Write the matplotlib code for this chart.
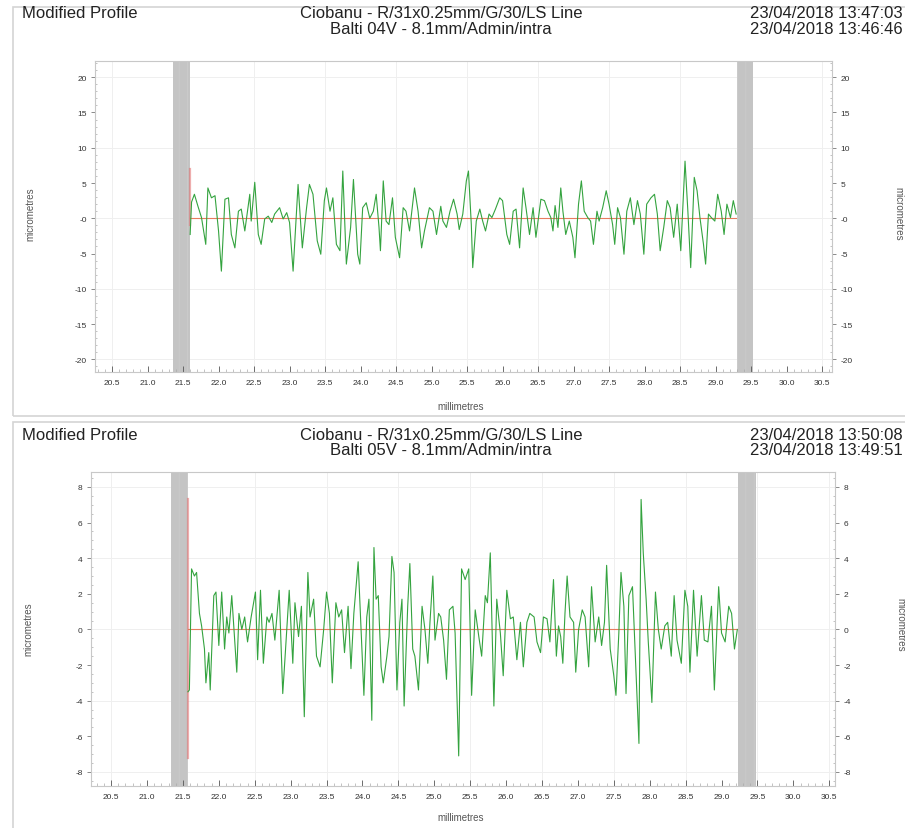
import matplotlib
matplotlib.use("Agg")
import matplotlib.pyplot as plt
from matplotlib.patches import Rectangle
from matplotlib.ticker import MultipleLocator

plt.rcParams['font.family'] = ['Liberation Sans', 'DejaVu Sans']
plt.rcParams['hatch.linewidth'] = 0.5

# ---------------- data ----------------
x_ticks = [20.5, 21.0, 21.5, 22.0, 22.5, 23.0, 23.5, 24.0, 24.5, 25.0, 25.5,
           26.0, 26.5, 27.0, 27.5, 28.0, 28.5, 29.0, 29.5, 30.0, 30.5]

top_header = ["Modified Profile", "Ciobanu - R/31x0.25mm/G/30/LS Line",
              "Balti 04V - 8.1mm/Admin/intra", "23/04/2018 13:47:03", "23/04/2018 13:46:46"]
bot_header = ["Modified Profile", "Ciobanu - R/31x0.25mm/G/30/LS Line",
              "Balti 05V - 8.1mm/Admin/intra", "23/04/2018 13:50:08", "23/04/2018 13:49:51"]

top_yticks = [-20, -15, -10, -5, 0, 5, 10, 15, 20]
top_ylabels = ["-20", "-15", "-10", "-5", "-0", "5", "10", "15", "20"]
bot_yticks = [-8, -6, -4, -2, 0, 2, 4, 6, 8]
bot_ylabels = ["-8", "-6", "-4", "-2", "0", "2", "4", "6", "8"]

top_bands = [(21.36, 21.60), (29.30, 29.53)]
bot_bands = [(21.34, 21.57), (29.23, 29.48)]

top_x = [21.60, 21.62, 21.66, 21.71, 21.76, 21.82, 21.85, 21.90, 21.95, 22.00,
         22.04, 22.09, 22.14, 22.18, 22.23, 22.28, 22.32, 22.37, 22.44, 22.46,
         22.51, 22.56, 22.60, 22.65, 22.70, 22.75, 22.79, 22.86, 22.91, 22.96,
         23.00, 23.05, 23.12, 23.18, 23.24, 23.28, 23.33, 23.39, 23.44, 23.49,
         23.52, 23.57, 23.61, 23.66, 23.71, 23.75, 23.80, 23.86, 23.90, 23.96,
         23.99, 24.03, 24.08, 24.13, 24.18, 24.22, 24.26, 24.28, 24.32, 24.36,
         24.40, 24.45, 24.49, 24.55, 24.60, 24.64, 24.69, 24.76, 24.81, 24.86,
         24.90, 24.97, 25.02, 25.07, 25.13, 25.16, 25.21, 25.26, 25.31, 25.36,
         25.39, 25.44, 25.49, 25.52, 25.56, 25.58, 25.63, 25.68, 25.72, 25.76,
         25.81, 25.85, 25.90, 25.96, 26.00, 26.06, 26.10, 26.15, 26.19, 26.24,
         26.29, 26.33, 26.38, 26.43, 26.47, 26.54, 26.59, 26.64, 26.68, 26.71,
         26.74, 26.78, 26.82, 26.85, 26.89, 26.94, 26.99, 27.02, 27.07, 27.11,
         27.15, 27.20, 27.24, 27.28, 27.33, 27.36, 27.41, 27.46, 27.50, 27.55,
         27.58, 27.62, 27.66, 27.71, 27.75, 27.80, 27.85, 27.90, 27.94, 27.99,
         28.03, 28.09, 28.14, 28.18, 28.22, 28.27, 28.32, 28.36, 28.41, 28.46,
         28.51, 28.57, 28.61, 28.65, 28.70, 28.74, 28.78, 28.83, 28.86, 28.90,
         28.94, 28.99, 29.03, 29.08, 29.12, 29.16, 29.21, 29.25, 29.29]
top_y = [-2.3, 2.3, 3.4, 1.7, 0.1, -3.7, 4.3, 2.9, 3.2, -1.8,
         -7.5, 2.7, 2.9, -2.3, -4.2, 1.0, 1.3, -1.8, 3.4, -0.4,
         5.1, -2.3, -3.7, -0.1, 0.3, -0.6, 0.6, 1.5, -0.1, 0.8,
         -0.6, -7.5, 4.8, -4.2, 1.5, 4.8, 3.4, -3.2, -5.1, 2.5,
         4.3, 1.0, 2.9, -3.7, -4.6, 6.7, -6.5, -1.3, 5.5, -5.1,
         -6.5, 1.5, 2.2, 0.0, 1.0, 3.4, -1.3, -4.6, 5.3, -0.4,
         -0.9, 2.9, -2.7, -5.6, 1.5, 1.0, -1.8, 4.3, 1.0, -4.2,
         -1.8, 1.5, 1.0, -2.3, 1.7, -0.4, -1.3, 1.0, 2.7, 0.6,
         -1.6, 0.6, 5.3, 6.7, -0.9, -7.0, -0.4, 1.3, -0.4, -1.8,
         0.6, 0.1, 1.3, 2.9, 2.5, -2.3, -3.7, 1.0, 1.3, -4.2,
         4.3, 1.5, -2.3, 1.5, -2.7, 2.7, 2.5, 1.0, 0.1, -1.8,
         1.8, -1.3, 4.3, 1.0, -2.3, -0.4, -2.7, -5.6, 2.0, 5.3,
         1.0, 0.1, -0.4, -3.7, 1.0, -0.4, 1.5, 3.9, 2.0, -0.9,
         -3.7, 1.5, 0.1, -5.1, 1.0, 2.9, -0.9, 2.5, 0.6, -5.1,
         2.0, 2.9, 3.4, 0.6, -4.6, -1.3, 2.5, 1.5, -2.7, 2.0,
         -4.6, 8.1, 1.0, -7.0, 5.8, 3.9, 0.1, -3.7, -6.5, 0.6,
         0.1, -0.4, 3.4, 1.0, -2.3, 2.0, 0.1, 2.5, 0.6]

bot_x = [21.57, 21.59, 21.62, 21.66, 21.69, 21.73, 21.76, 21.80, 21.82, 21.86,
         21.88, 21.93, 21.96, 22.00, 22.04, 22.08, 22.11, 22.14, 22.18, 22.22,
         22.25, 22.28, 22.32, 22.36, 22.40, 22.45, 22.51, 22.54, 22.58, 22.62,
         22.67, 22.70, 22.74, 22.78, 22.84, 22.89, 22.92, 22.98, 23.03, 23.06,
         23.11, 23.15, 23.19, 23.24, 23.27, 23.32, 23.36, 23.41, 23.46, 23.50,
         23.54, 23.58, 23.63, 23.67, 23.71, 23.75, 23.80, 23.84, 23.88, 23.94,
         23.98, 24.02, 24.06, 24.09, 24.13, 24.16, 24.19, 24.22, 24.26, 24.29,
         24.34, 24.37, 24.41, 24.44, 24.48, 24.52, 24.55, 24.58, 24.63, 24.66,
         24.70, 24.73, 24.78, 24.83, 24.87, 24.91, 24.94, 24.98, 25.01, 25.06,
         25.09, 25.13, 25.17, 25.21, 25.26, 25.29, 25.34, 25.38, 25.43, 25.48,
         25.52, 25.57, 25.62, 25.66, 25.71, 25.74, 25.78, 25.83, 25.87, 25.92,
         25.96, 26.01, 26.06, 26.10, 26.15, 26.20, 26.24, 26.29, 26.33, 26.39,
         26.43, 26.48, 26.52, 26.57, 26.61, 26.66, 26.70, 26.73, 26.76, 26.79,
         26.82, 26.85, 26.89, 26.94, 26.97, 27.01, 27.06, 27.10, 27.15, 27.19,
         27.24, 27.29, 27.33, 27.37, 27.40, 27.45, 27.50, 27.53, 27.57, 27.60,
         27.64, 27.67, 27.71, 27.76, 27.80, 27.85, 27.88, 27.91, 27.95, 27.98,
         28.03, 28.08, 28.12, 28.16, 28.21, 28.25, 28.30, 28.34, 28.38, 28.44,
         28.49, 28.53, 28.56, 28.61, 28.66, 28.72, 28.76, 28.81, 28.86, 28.90,
         28.96, 29.00, 29.05, 29.10, 29.14, 29.18, 29.22]
bot_y = [-3.5, -3.4, 3.4, 3.0, 3.2, 0.9, 0.2, -1.1, -3.0, -1.3,
         -3.4, 1.9, 2.1, -0.9, 2.1, -1.1, 0.7, -0.2, 1.9, -0.6,
         -2.4, 0.9, 0.0, 0.7, -0.7, 0.7, 2.1, -1.7, 2.2, -1.9,
         0.7, 0.4, 0.9, -0.6, 2.2, -3.6, -1.7, 2.2, -1.9, 1.5,
         -0.4, 1.3, -4.9, 3.2, 0.7, 1.7, -1.5, -2.1, 0.0, 2.1,
         0.9, -3.0, 1.5, 0.7, 1.1, -1.3, 1.3, -2.2, 0.9, 3.8,
         0.0, -3.7, 0.7, 1.7, -5.1, 4.6, 1.7, 1.9, -2.1, -3.0,
         -1.5, -0.4, 4.1, 3.2, -3.4, 0.4, 1.7, -4.3, 1.3, 3.7,
         -1.1, -1.5, -3.4, 1.3, 0.0, -1.9, 0.4, 3.0, -0.6, 0.9,
         0.7, -0.6, -2.8, 1.1, 1.3, -0.2, -7.1, 3.4, 2.8, 3.4,
         -3.7, 1.1, -0.4, -1.5, 1.9, 1.5, 4.3, -4.3, 1.7, -0.2,
         -2.6, 2.2, 0.6, 0.7, -1.7, 0.4, -2.1, 0.4, 0.9, 0.7,
         -0.7, -1.3, 0.7, 0.6, -0.7, 2.8, -1.5, 0.2, -0.4, -1.9,
         0.9, 3.0, 0.7, 0.4, -2.4, 0.0, 1.1, 0.7, -2.1, 2.4,
         -0.7, 0.7, -0.9, 0.4, 3.6, -1.1, -2.6, -3.7, -0.2, 3.2,
         1.3, -3.6, 1.9, 2.4, -1.5, -6.4, 7.3, 4.3, 1.7, -0.7,
         -4.1, 2.1, 0.0, -1.1, 0.2, 0.4, -1.5, 1.9, -0.6, -1.9,
         2.2, 1.3, -2.4, 2.2, -1.5, 1.9, -0.6, -0.7, 1.3, -3.4,
         2.4, -0.2, -0.7, 1.3, 0.9, -1.1, 0.0]

# ---------------- figure ----------------
W, H = 905, 829
fig = plt.figure(figsize=(W / 100, H / 100), dpi=100)


def fx(px):
    return px / W


def fy(py):
    return 1 - py / H


def header_block(rect_px, header, head_y):
    x0, y0, x1, y1 = rect_px
    fig.add_artist(Rectangle((fx(x0), fy(y1)), fx(x1) - fx(x0), fy(y0) - fy(y1),
                             transform=fig.transFigure, fill=False,
                             ec='#d4d4d4', lw=1.2))
    kw = dict(fontsize=12, color='#222222', va='center')
    fig.text(fx(22), fy(head_y), header[0], ha='left', **kw)
    fig.text(fx(441), fy(head_y), header[1], ha='center', **kw)
    fig.text(fx(441), fy(head_y + 16), header[2], ha='center', **kw)
    fig.text(fx(903), fy(head_y), header[3], ha='right', **kw)
    fig.text(fx(903), fy(head_y + 16), header[4], ha='right', **kw)


def make_axes(box_px, yticks, ylabels, ylim, xlim, bands, xs, ys, red_span,
              ygrid, yminor):
    l, t, r, b = box_px
    ax = fig.add_axes([fx(l), fy(b), fx(r) - fx(l), fy(t) - fy(b)])
    ax.set_xlim(*xlim)
    ax.set_ylim(*ylim)
    for gx in x_ticks[::2]:
        ax.axvline(gx, color='#efefef', lw=0.7, zorder=0)
    for gy in ygrid:
        ax.axhline(gy, color='#efefef', lw=0.7, zorder=0)
    for a, bnd in bands:
        ax.axvspan(a, bnd, facecolor='#c4c4c4', edgecolor='#cdcdcd',
                   hatch='||', lw=0, zorder=1)
    ax.plot([xs[0], xs[0]], red_span, color='#e06a6a', lw=1.6, alpha=0.55,
            zorder=2)
    ax.plot([xs[0], xs[-1]], [0, 0], color='#e8704f', lw=0.8, alpha=0.9,
            zorder=2)
    ax.plot(xs, ys, color='#34a33f', lw=0.8, zorder=3)

    ax.set_xticks(x_ticks)
    ax.set_xticklabels([f"{v:.1f}" for v in x_ticks])
    ax.xaxis.set_minor_locator(MultipleLocator(0.1))
    ax.set_yticks(yticks)
    ax.set_yticklabels(ylabels)
    ax.yaxis.set_minor_locator(MultipleLocator(yminor))
    ax.tick_params(axis='x', which='major', direction='in', length=4,
                   labelsize=6, colors='#555555', labelcolor='#333333', pad=5,
                   width=0.6)
    ax.tick_params(axis='x', which='minor', direction='in', length=2,
                   colors='#aaaaaa', width=0.5)
    ax.tick_params(axis='y', which='major', direction='out', length=3,
                   left=True, right=True, labelleft=True, labelright=True,
                   labelsize=6, colors='#777777', labelcolor='#333333', pad=3,
                   width=0.6)
    ax.tick_params(axis='y', which='minor', direction='in', length=1.5,
                   left=True, right=True, colors='#aaaaaa', width=0.5)
    for s in ax.spines.values():
        s.set_color('#c8c8c8')
        s.set_linewidth(0.8)
    return ax


# ---------------- top panel ----------------
header_block((13, 8, 910, 417), top_header, 14)
make_axes((95, 62, 832, 373), top_yticks, top_ylabels, (-21.8, 22.3),
          (20.26, 30.64), top_bands, top_x, top_y, [-1.0, 7.0],
          [-20, -10, 0, 10, 20], 1)
fig.text(fx(30), fy(214), "micrometres", rotation=90, fontsize=7,
         color='#555555', ha='center', va='center')
fig.text(fx(898), fy(214), "micrometres", rotation=270, fontsize=7,
         color='#555555', ha='center', va='center')
fig.text(fx(461), fy(407), "millimetres", fontsize=7, color='#555555',
         ha='center', va='center')

# ---------------- bottom panel ----------------
header_block((13, 423, 910, 835), bot_header, 435)
make_axes((91, 473, 835, 787), bot_yticks, bot_ylabels, (-8.79, 8.84),
          (20.22, 30.58), bot_bands, bot_x, bot_y, [-7.2, 7.3],
          [-8, -4, 0, 4, 8], 0.5)
fig.text(fx(28), fy(629), "micrometres", rotation=90, fontsize=7,
         color='#555555', ha='center', va='center')
fig.text(fx(900), fy(625), "micrometres", rotation=270, fontsize=7,
         color='#555555', ha='center', va='center')
fig.text(fx(461), fy(818), "millimetres", fontsize=7, color='#555555',
         ha='center', va='center')

fig.savefig("out.png", dpi=100, facecolor='white')
